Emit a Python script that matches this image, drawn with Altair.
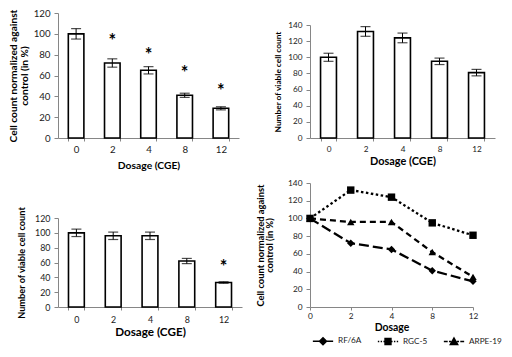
import altair as alt
import pandas as pd

dosages = ["0", "2", "4", "8", "12"]

# Top-left panel (RF/6A): cell count normalized against control (%)
a_mean = [100, 72, 65, 41, 28.5]
a_err = [5, 4, 3.5, 2, 1.5]
a_star = [None, 97, 84, 66, 49]

# Top-right panel (RGC-5): number of viable cell count
b_mean = [100, 132, 124, 95, 81]
b_err = [5, 6, 6, 4, 4]
b_star = [None, None, None, None, None]

# Bottom-left panel (ARPE-19): number of viable cell count
c_mean = [100, 96, 96, 62, 33]
c_err = [5, 5, 5, 3.5, 1]
c_star = [None, None, None, None, 60]

# Bottom-right line chart
series = ["RF/6A", "RGC-5", "ARPE-19"]
line_rf6a = [100, 72, 65, 41, 29]
line_rgc5 = [100, 132, 124, 95, 81]
line_arpe = [100, 96, 96, 62, 34]

FONT = "Lato"
AXIS_GREY = "#868686"
LABEL_COL = "#1a1a1a"


def bar_panel(mean, err, star, y_title, y_max, width, height, y_range, st):
    df = pd.DataFrame({
        "dose": dosages,
        "mean": mean,
        "lo": [m - e for m, e in zip(mean, err)],
        "hi": [m + e for m, e in zip(mean, err)],
        "star": star,
    })
    xaxis = alt.Axis(title="Dosage (CGE)", labelAngle=0, tickBand="extent",
                     tickSize=3, labelPadding=st["xlp"], titlePadding=st["xtp"],
                     labelFontSize=st["lab"], titleFontSize=st["xt"])
    xscale = alt.Scale(paddingInner=0.57, paddingOuter=0.285)
    yscale = alt.Scale(domain=[0, y_max], range=y_range, nice=False, zero=True)
    yaxis = alt.Axis(title=y_title, values=list(range(0, y_max + 1, 20)),
                     titleLineHeight=st["ylh"], labelPadding=4,
                     titlePadding=st["ytp"], labelOverlap=False,
                     labelFontSize=st["lab"], titleFontSize=st["yt"])

    def X():
        return alt.X("dose:N", sort=dosages, scale=xscale, axis=xaxis)

    def Y(field):
        return alt.Y(field, scale=yscale, axis=yaxis)

    base = alt.Chart(df)
    bars = base.mark_bar(fill="white", stroke="black", strokeWidth=1.6).encode(
        x=X(), y=Y("mean:Q"))
    rules = base.mark_rule(color="black", strokeWidth=1).encode(
        x=X(), y=Y("lo:Q"), y2="hi:Q")
    cap_hi = base.mark_tick(color="black", size=10, thickness=1.2).encode(
        x=X(), y=Y("hi:Q"))
    cap_lo = base.mark_tick(color="black", size=10, thickness=1.2).encode(
        x=X(), y=Y("lo:Q"))
    layers = [bars, rules, cap_hi, cap_lo]
    if any(s is not None for s in star):
        stars = base.transform_filter("datum.star != null").mark_text(
            text="*", font=FONT, fontSize=18, fontWeight="bold", color="black",
            baseline="middle", dy=5
        ).encode(x=X(), y=Y("star:Q"))
        layers.append(stars)
    return alt.layer(*layers).properties(width=width, height=height)


tl = bar_panel(a_mean, a_err, a_star,
               ["Cell count normalized against", "control (in %)"],
               120, 181, 125, [125, 0],
               dict(lab=9.7, xt=10.3, yt=10.2, ylh=10.5, ytp=4, xlp=3, xtp=6.5))
tr = bar_panel(b_mean, b_err, b_star, "Number of viable cell count",
               140, 185, 125, [125, 12],
               dict(lab=8.2, xt=10.9, yt=8.3, ylh=9, ytp=5, xlp=4, xtp=3.5))
bl = bar_panel(c_mean, c_err, c_star, "Number of viable cell count",
               120, 184, 124, [124, 35],
               dict(lab=8.9, xt=11.7, yt=9.2, ylh=10, ytp=8, xlp=5, xtp=3))

rows = []
for name, vals in zip(series, [line_rf6a, line_rgc5, line_arpe]):
    for d, v in zip(dosages, vals):
        rows.append({"dose": d, "value": v, "series": name})
ldf = pd.DataFrame(rows)

lx = alt.X("dose:N", sort=dosages, scale=alt.Scale(type="point", padding=0),
           axis=alt.Axis(title="Dosage", labelAngle=0, labelPadding=1, tickSize=3,
                         titlePadding=3, labelFontSize=8.3, titleFontSize=10.4))
ly = alt.Y("value:Q", scale=alt.Scale(domain=[0, 140], range=[124, 0], nice=False),
           axis=alt.Axis(title=["Cell count normalized against", "control (in %)"],
                         values=list(range(0, 141, 20)), titleLineHeight=9,
                         labelPadding=4, titlePadding=13, labelOverlap=False,
                         labelFontSize=8.3, titleFontSize=9.4))

lbase = alt.Chart(ldf)
lines = lbase.mark_line(color="black", strokeWidth=2.3).encode(
    x=lx, y=ly,
    strokeDash=alt.StrokeDash("series:N",
                              scale=alt.Scale(domain=series,
                                              range=[[10, 4], [2.5, 2.5], [6, 4]]),
                              legend=None),
    detail="series:N",
)
pts = lbase.mark_point(filled=True, color="black", size=55, opacity=1).encode(
    x=lx, y=ly,
    shape=alt.Shape("series:N",
                    scale=alt.Scale(domain=series,
                                    range=["diamond", "square", "triangle-up"]),
                    legend=None),
)
legend_paths = [
    "M-1.45,0H-0.42M0.42,0H1.45M0,-0.5L0.5,0L0,0.5L-0.5,0Z",
    "M-1.45,0H-1.25M-1.05,0H-0.85M-0.65,0H-0.45M0.45,0H0.65M0.85,0H1.05M1.25,0H1.45"
    "M-0.42,-0.42H0.42V0.42H-0.42Z",
    "M-1.45,0H-0.9M-0.72,0H-0.42M0.42,0H0.72M0.9,0H1.45M0,-0.5L0.52,0.4H-0.52Z",
]
leg = lbase.mark_point(filled=True, color="black", stroke="black",
                       strokeWidth=1.6, opacity=0).encode(
    x=lx, y=ly,
    shape=alt.Shape("series:N",
                    scale=alt.Scale(domain=series, range=legend_paths),
                    legend=alt.Legend(title=None, orient="none", direction="horizontal",
                                      legendX=5, legendY=150, symbolSize=196,
                                      labelFont=FONT, labelFontSize=8.2,
                                      labelColor=LABEL_COL, labelOffset=7,
                                      columnPadding=12)),
)
br = alt.layer(lines, pts, leg).resolve_scale(shape="independent").properties(
    width=163, height=124)

chart = alt.concat(tl, tr, bl, br, columns=2, spacing={"row": 45, "column": 68},
                   bounds="flush", align="each").properties(padding=0).configure_view(
    stroke=None
).configure_axis(
    grid=False, domainColor=AXIS_GREY, tickColor=AXIS_GREY, tickSize=4,
    labelFont=FONT, labelColor=LABEL_COL,
    titleFont=FONT, titleFontWeight="bold", titleColor="black",
)

chart.save("out.html", embed_options={"renderer": "svg", "actions": False})
